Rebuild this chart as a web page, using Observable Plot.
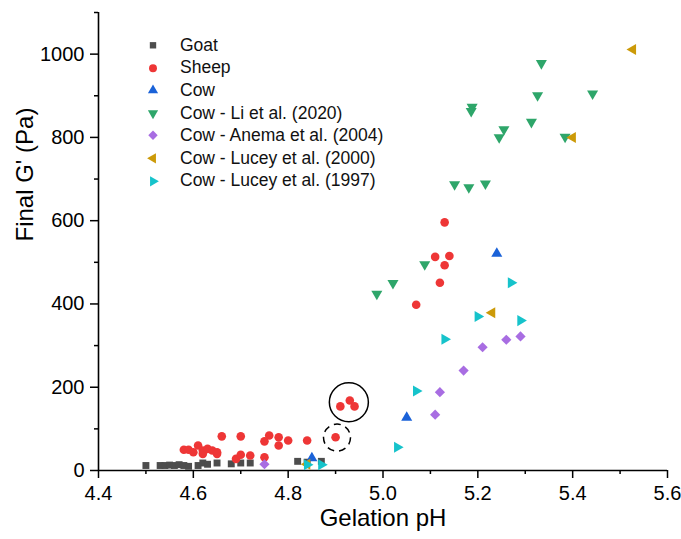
<!DOCTYPE html>
<html>
<head>
<meta charset="utf-8">
<script src="https://cdn.jsdelivr.net/npm/d3@7"></script>
<script src="https://cdn.jsdelivr.net/npm/@observablehq/plot@0.6"></script>
<style>
  html, body { margin: 0; padding: 0; background: #fff; }
  #wrap { position: relative; width: 681px; height: 539px; font-family: "Liberation Sans", Arial, sans-serif; }
  #legend { position: absolute; left: 143px; top: 34px; }
  .row { display: flex; align-items: center; height: 22.6px; font-size: 17.5px; color: #111; white-space: nowrap; }
  .row svg { width: 20px; height: 22.6px; flex: none; }
  .row span { margin-left: 17px; }
</style>
</head>
<body>
<div id="wrap"><div id="legend"></div></div>
<script>
// ---- Data: [gelation pH, final G' (Pa)] ----
const goat = [[4.50,12],[4.53,12],[4.54,12],[4.55,13],[4.56,12],[4.57,14],[4.58,12],[4.59,10],[4.61,12],[4.62,18],[4.63,15],[4.65,18],[4.68,16],[4.70,18],[4.72,18],[4.82,22],[4.84,20],[4.87,22]];
const sheep = [[4.58,50],[4.59,50],[4.60,44],[4.61,60],[4.62,48],[4.62,40],[4.63,52],[4.64,48],[4.65,44],[4.65,40],[4.66,82],[4.69,28],[4.70,38],[4.70,82],[4.72,36],[4.75,32],[4.75,70],[4.76,84],[4.78,80],[4.78,60],[4.80,72],[4.84,72],[4.90,80],[4.91,154],[4.93,168],[4.94,154],[5.07,398],[5.11,513],[5.12,451],[5.13,493],[5.13,596],[5.14,515]];
const cow = [[4.85,30],[5.05,127],[5.24,521]];
const cowLi2020 = [[4.987,424],[5.021,450],[5.088,495],[5.151,687],[5.181,680],[5.186,863],[5.188,873],[5.216,689],[5.245,800],[5.255,819],[5.313,837],[5.326,901],[5.334,978],[5.384,801],[5.442,905]];
const cowAnema2004 = [[4.75,15],[5.11,134],[5.12,188],[5.17,240],[5.21,296],[5.26,314],[5.29,322]];
const cowLucey2000 = [[4.84,15],[5.23,379],[5.40,800],[5.527,1011]];
const cowLucey1997 = [[4.84,14],[4.87,14],[5.03,56],[5.07,191],[5.13,315],[5.20,370],[5.27,451],[5.29,360]];
const seriesNames = ["Goat","Sheep","Cow","Cow - Li et al. (2020)","Cow - Anema et al. (2004)","Cow - Lucey et al. (2000)","Cow - Lucey et al. (1997)"];
const xMajor = [4.4,4.6,4.8,5.0,5.2,5.4,5.6];
const xMinor = [4.5,4.7,4.9,5.1,5.3,5.5];
const yMajor = [0,200,400,600,800,1000];
const yMinor = [100,300,500,700,900,1100];
// highlighted groups (centre in data units)
const solidRing = [[4.928,164]];
const dashedRing = [[4.903,79]];

// ---- custom triangle symbols ----
const s3 = Math.sqrt(3);
function tri(dir) {
  return { draw(ctx, size) {
    const y = -Math.sqrt(size / (s3 * 3));
    let pts = [[0, y*2],[-s3*y, -y],[s3*y, -y]]; // up
    if (dir === "down") pts = pts.map(([a,b]) => [a,-b]);
    if (dir === "left") pts = pts.map(([a,b]) => [b,a]);
    if (dir === "right") pts = pts.map(([a,b]) => [-b,a]);
    ctx.moveTo(pts[0][0], pts[0][1]);
    ctx.lineTo(pts[1][0], pts[1][1]);
    ctx.lineTo(pts[2][0], pts[2][1]);
    ctx.closePath();
  }};
}

const series = [
  {name: seriesNames[0], data: goat, color: "#4d4d4d", symbol: d3.symbolSquare, r: 3.9},
  {name: seriesNames[1], data: sheep, color: "#ee3636", symbol: d3.symbolCircle, r: 4.3},
  {name: seriesNames[2], data: cow, color: "#1a62d8", symbol: tri("up"), r: 4.1},
  {name: seriesNames[3], data: cowLi2020, color: "#2ea66a", symbol: tri("down"), r: 4.1},
  {name: seriesNames[4], data: cowAnema2004, color: "#a86de2", symbol: d3.symbolDiamond2, r: 4.6},
  {name: seriesNames[5], data: cowLucey2000, color: "#cc9a08", symbol: tri("left"), r: 4.1},
  {name: seriesNames[6], data: cowLucey1997, color: "#16c3cb", symbol: tri("right"), r: 4.1}
];

const chart = Plot.plot({
  width: 681, height: 539,
  marginLeft: 98, marginRight: 14, marginTop: 12, marginBottom: 69,
  x: {domain: [4.4, 5.6]},
  y: {domain: [0, 1100]},
  style: {fontFamily: "'Liberation Sans', Arial, sans-serif", color: "#000", background: "#fff", overflow: "visible"},
  marks: [
    Plot.axisX(xMajor, {tickSize: 8, tickPadding: 7, fontSize: 20, strokeWidth: 1.5, tickFormat: d => d.toFixed(1), label: null}),
    Plot.axisX(xMinor, {tickSize: 4, strokeWidth: 1.5, tickFormat: () => "", label: null}),
    Plot.axisY(yMajor, {tickSize: 8, tickPadding: 6, fontSize: 20, strokeWidth: 1.5, tickFormat: d => String(d), label: null}),
    Plot.axisY(yMinor, {tickSize: 4, strokeWidth: 1.5, tickFormat: () => "", label: null}),
    Plot.ruleY([0], {strokeWidth: 1.6}),
    Plot.ruleX([4.4], {strokeWidth: 1.6}),
    Plot.text(["Gelation pH"], {text: d => d, frameAnchor: "bottom", dy: 55, fontSize: 24}),
    Plot.text(["Final G' (Pa)"], {text: d => d, frameAnchor: "left", dx: -73, rotate: -90, fontSize: 24}),
    ...series.map(s => Plot.dot(s.data, {x: d => d[0], y: d => d[1], fill: s.color, symbol: s.symbol, r: s.r})),
    Plot.dot(solidRing, {x: d => d[0], y: d => d[1], r: 19.5, fill: "none", stroke: "#000", strokeWidth: 1.5}),
    Plot.dot(dashedRing, {x: d => d[0], y: d => d[1], r: 13.5, fill: "none", stroke: "#000", strokeWidth: 1.5, strokeDasharray: "7,5"})
  ]
});
document.getElementById("wrap").prepend(chart);

// ---- legend ----
const legend = d3.select("#legend");
series.forEach(s => {
  const row = legend.append("div").attr("class", "row");
  const svg = row.append("svg").attr("viewBox", "-10 -11.3 20 22.6");
  svg.append("path").attr("d", d3.symbol(s.symbol, Math.PI * s.r * s.r * 0.85)()).attr("fill", s.color);
  row.append("span").text(s.name);
});
</script>
</body>
</html>
